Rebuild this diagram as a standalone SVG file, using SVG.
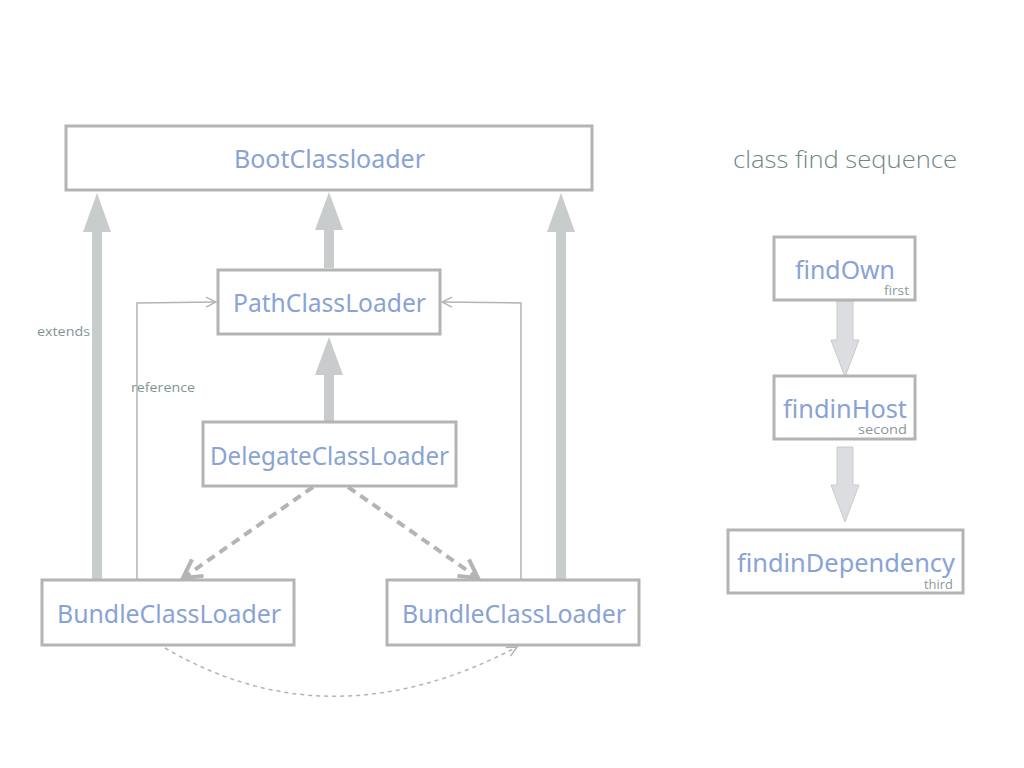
<svg xmlns="http://www.w3.org/2000/svg" width="1024" height="768" viewBox="0 0 1024 768">
<defs>
<style>
.box{fill:#fff;stroke:#b4b4b4;stroke-width:3}
.lbl{font-family:"Noto Sans","Open Sans",sans-serif;font-size:25px;fill:#89a3d4;text-anchor:middle}
.sm{font-family:"Open Sans","Liberation Sans",sans-serif;font-size:13.5px;fill:#7f9696}
.tiny{font-family:"Open Sans","Liberation Sans",sans-serif;font-size:13.5px;fill:#8a9a9a}
.title{font-family:"Open Sans","Liberation Sans",sans-serif;font-weight:300;font-size:23px;fill:#6f8787}
.ext{fill:#c9cccd}
.seq{fill:#dcdde0;stroke:#c9cacc;stroke-width:1}
.ref{fill:none;stroke:#b4b4b4;stroke-width:1.5}
.dash{fill:none;stroke:#b4b4b4;stroke-width:4;stroke-dasharray:9 6}
.dot{fill:none;stroke:#b4b4b4;stroke-width:1.5;stroke-dasharray:4 4}
</style>
<marker id="open" viewBox="0 0 12 12" refX="11" refY="6" markerWidth="12" markerHeight="12" markerUnits="userSpaceOnUse" orient="auto">
<path d="M1,1 L11,6 L1,11" fill="none" stroke="#b4b4b4" stroke-width="1.5"/>
</marker>
<marker id="openB" viewBox="0 0 12 12" refX="10" refY="6" markerWidth="6" markerHeight="6" orient="auto">
<path d="M1,1 L10,6 L1,11" fill="none" stroke="#b4b4b4" stroke-width="2"/>
</marker>
</defs>

<g id="connectors">
<path class="ext" d="M92,580 L92,232 L83,232 L97,193 L111,232 L102,232 L102,580 Z"/>
<path class="ext" d="M324,268 L324,230 L315,230 L329,192 L343,230 L334,230 L334,268 Z"/>
<path class="ext" d="M324,421 L324,375 L315,375 L329,337 L343,375 L334,375 L334,421 Z"/>
<path class="ext" d="M556,580 L556,232 L547,232 L561,193 L575,232 L566,232 L566,580 Z"/>
<path class="ref" d="M137,580 L137,303 L216,302" marker-end="url(#open)"/>
<path class="ref" d="M521,580 L521,303 L442,302" marker-end="url(#open)"/>
<path class="dash" d="M313,487 L183,578" marker-end="url(#openB)"/>
<path class="dash" d="M348,487 L478,578" marker-end="url(#openB)"/>
<path class="dot" d="M165,648 Q330,745 517,647" marker-end="url(#open)"/>
<path class="seq" d="M837,301 L837,340 L831,340 L845,377 L859,340 L853,340 L853,301 Z"/>
<path class="seq" d="M837,447 L837,485 L831,485 L845,522 L859,485 L853,485 L853,447 Z"/>
</g>

<g id="boot"><rect class="box" x="66" y="126" width="526" height="64"/><text class="lbl" x="329.5" y="168" textLength="191" lengthAdjust="spacingAndGlyphs">BootClassloader</text></g>
<g id="path"><rect class="box" x="218" y="270" width="222" height="64"/><text class="lbl" x="329.5" y="312" textLength="193" lengthAdjust="spacingAndGlyphs">PathClassLoader</text></g>
<g id="delegate"><rect class="box" x="203" y="422" width="253" height="64"/><text class="lbl" x="329.5" y="465" textLength="239" lengthAdjust="spacingAndGlyphs">DelegateClassLoader</text></g>
<g id="bundle1"><rect class="box" x="42" y="580" width="252" height="65"/><text class="lbl" x="169" y="623" textLength="224" lengthAdjust="spacingAndGlyphs">BundleClassLoader</text></g>
<g id="bundle2"><rect class="box" x="387" y="580" width="252" height="65"/><text class="lbl" x="514" y="623" textLength="224" lengthAdjust="spacingAndGlyphs">BundleClassLoader</text></g>

<g id="labels">
<text class="sm" x="37" y="336" textLength="53" lengthAdjust="spacingAndGlyphs">extends</text>
<text class="sm" x="131" y="392" textLength="64" lengthAdjust="spacingAndGlyphs">reference</text>
<text class="title" x="733" y="168" textLength="224" lengthAdjust="spacingAndGlyphs">class find sequence</text>
</g>

<g id="findOwn"><rect class="box" x="774" y="237" width="141" height="63"/><text class="lbl" x="845" y="279" textLength="100" lengthAdjust="spacingAndGlyphs">findOwn</text><text class="tiny" x="884" y="295" textLength="25" lengthAdjust="spacingAndGlyphs">first</text></g>
<g id="findinHost"><rect class="box" x="774" y="376" width="141" height="63"/><text class="lbl" x="845" y="418" textLength="124" lengthAdjust="spacingAndGlyphs">findinHost</text><text class="tiny" x="858" y="434" textLength="49" lengthAdjust="spacingAndGlyphs">second</text></g>
<g id="findinDependency"><rect class="box" x="728" y="530" width="235" height="63"/><text class="lbl" x="846" y="572" textLength="218" lengthAdjust="spacingAndGlyphs">findinDependency</text><text class="tiny" x="924" y="589" textLength="29" lengthAdjust="spacingAndGlyphs">third</text></g>
</svg>
